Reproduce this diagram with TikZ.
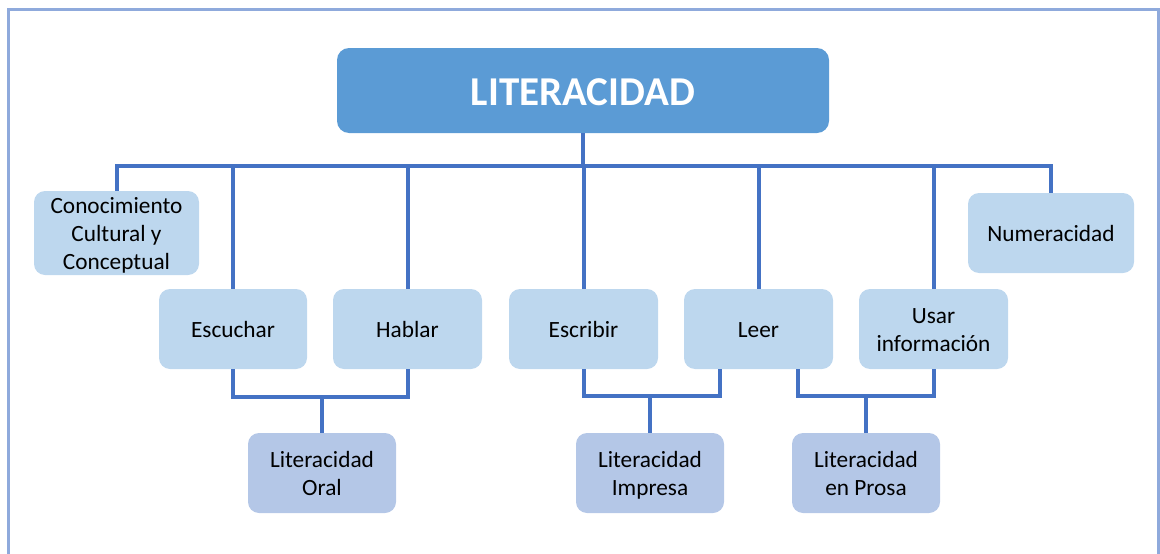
\documentclass[tikz,border=0pt]{standalone}
\usepackage{fontspec}
\setmainfont{Carlito}
\definecolor{topfill}{HTML}{5B9BD5}
\definecolor{lightfill}{HTML}{BDD7EE}
\definecolor{botfill}{HTML}{B4C7E7}
\definecolor{linecol}{HTML}{4472C4}
\definecolor{framecol}{HTML}{8FAADC}
\tikzset{
  box/.style={rectangle, rounded corners=11pt, fill=lightfill, draw=none,
    minimum width=148pt, minimum height=80pt, inner sep=0pt, align=center,
    font=\fontsize{23.3}{28}\selectfont, text=black,
    text height=22pt, text depth=6pt},
  twoline/.style={text height=50pt, text depth=6pt},
  threeline/.style={text height=78pt, text depth=6pt},
  botbox/.style={box, twoline, fill=botfill},
  topbox/.style={rectangle, rounded corners=12pt, fill=topfill, minimum width=492pt,
    minimum height=85pt, inner sep=0pt, text height=30pt, text depth=1pt,
    text=white, font=\fontsize{41}{46}\selectfont\bfseries},
  conn/.style={draw=linecol, line width=4pt},
}
\begin{document}
\begin{tikzpicture}[x=1pt,y=-1pt]
\useasboundingbox (0,0) rectangle (1160,554);
\draw[framecol, line width=3pt] (8.5,570) -- (8.5,9.5) -- (1158.5,9.5) -- (1158.5,570);
\node[topbox] (top) at (583,90.5) {LITERACIDAD};
\node[box, threeline, minimum width=165pt] (conoc) at (116.5,233) {Conocimiento\\Cultural y\\Conceptual};
\node[box, minimum width=166pt] (numer) at (1051,233) {Numeracidad};
\node[box] (escuchar) at (233,329) {Escuchar};
\node[box, minimum width=149pt] (hablar) at (407.5,329) {Hablar};
\node[box, minimum width=149pt] (escribir) at (583.5,329) {Escribir};
\node[box, minimum width=149pt] (leer) at (758.5,329) {Leer};
\node[box, twoline, minimum width=149pt] (usar) at (933.5,329) {Usar\\información};
\node[botbox] (oral) at (322,473) {Literacidad\\Oral};
\node[botbox] (impresa) at (650,473) {Literacidad\\Impresa};
\node[botbox] (prosa) at (866,473) {Literacidad\\en Prosa};
\coordinate (bus) at (583,166);
\draw[conn] (top.south) -- (bus);
\draw[conn] (conoc.north) -- (conoc.north |- bus) -| (numer.north);
\foreach \n in {escuchar,hablar,escribir,leer,usar}
  \draw[conn] (\n.north) -- (\n.north |- bus);
\draw[conn] (escuchar.south) -- ++(0,28) -| (hablar.south);
\draw[conn] (oral.north) -- ++(0,-36);
\draw[conn] (escribir.south) -- ++(0,27) -| ([xshift=-38.5pt]leer.south);
\draw[conn] (impresa.north) -- ++(0,-37);
\draw[conn] ([xshift=39.5pt]leer.south) -- ++(0,27) -| (usar.south);
\draw[conn] (prosa.north) -- ++(0,-37);
\end{tikzpicture}
\end{document}
